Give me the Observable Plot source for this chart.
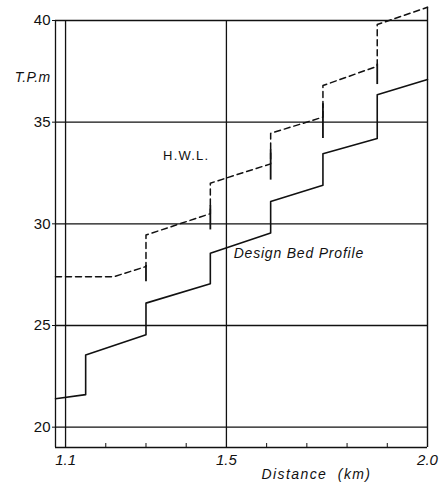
<!DOCTYPE html>
<html>
<head>
<meta charset="utf-8">
<script src="https://cdn.jsdelivr.net/npm/d3@7"></script>
<script src="https://cdn.jsdelivr.net/npm/@observablehq/plot@0.6"></script>
<style>
  html, body { margin: 0; padding: 0; background: #fff; }
  #chart svg { font-family: "Liberation Sans", Arial, sans-serif; }
  g[aria-label="x-axis tick label"] text { font-style: italic; }
</style>
</head>
<body>
<div id="chart"></div>
<script>
// Longitudinal section of the channel: distance (km) against level (T.P. m)

// Design bed profile (solid), stepping up at each drop structure
const bedDistance = [1.075, 1.15, 1.15, 1.30, 1.30, 1.46, 1.46, 1.61, 1.61, 1.74, 1.74, 1.875, 1.875, 2.0];
const bedLevel    = [21.4, 21.6, 23.55, 24.55, 26.1, 27.05, 28.55, 29.55, 31.1, 31.9, 33.45, 34.2, 36.35, 37.1];

// High water level (dashed)
const hwlDistance = [1.075, 1.22, 1.30, 1.30, 1.46, 1.46, 1.61, 1.61, 1.74, 1.74, 1.875, 1.875, 2.0];
const hwlLevel    = [27.4, 27.4, 27.9, 29.45, 30.5, 32.0, 32.95, 34.45, 35.25, 36.8, 37.75, 39.8, 40.65];

// Short solid marks where the H.W.L. jumps at each structure
const dropDistance = [1.30, 1.46, 1.61, 1.74, 1.875];
const dropTop      = [27.95, 30.9, 33.65, 35.9, 37.85];
const dropBottom   = [27.15, 29.7, 32.15, 34.2, 36.85];

// Axes
const levelTicks     = [20, 25, 30, 35, 40];
const distanceLabels = [1.1, 1.5, 2.0];
const distanceMinor  = [1.2, 1.3, 1.4, 1.6, 1.7, 1.8, 1.9];
const distanceGrid   = [1.1, 1.5];
const distanceRange  = [1.075, 2.0];
const levelRange     = [19, 40];

const bed  = bedDistance.map((d, i) => ({distance: d, level: bedLevel[i]}));
const hwl  = hwlDistance.map((d, i) => ({distance: d, level: hwlLevel[i]}));
const drops = dropDistance.map((d, i) => ({distance: d, top: dropTop[i], bottom: dropBottom[i]}));

const ink = "#111";

const chart = Plot.plot({
  width: 448,
  height: 485,
  marginLeft: 55,
  marginRight: 21,
  marginTop: 20,
  marginBottom: 38,
  style: {background: "#fff", color: ink, fontSize: "15px"},
  x: {domain: distanceRange},
  y: {domain: levelRange},
  marks: [
    // horizontal level lines and the bottom of the frame
    Plot.ruleY(levelTicks, {stroke: ink, strokeWidth: 1.4}),
    Plot.ruleY([levelRange[0]], {stroke: ink, strokeWidth: 1.6}),
    // left edge of the frame and the vertical grid lines
    Plot.ruleX([distanceRange[0], ...distanceGrid], {stroke: ink, strokeWidth: 1.3}),
    // right edge rises to meet the end of the H.W.L. line
    Plot.ruleX([distanceRange[1]], {y1: levelRange[0], y2: hwlLevel[hwlLevel.length - 1], stroke: ink, strokeWidth: 1.4}),

    // design bed profile
    Plot.line(bed, {x: "distance", y: "level", stroke: ink, strokeWidth: 1.6, curve: "linear"}),
    // high water level
    Plot.line(hwl, {x: "distance", y: "level", stroke: ink, strokeWidth: 1.5, strokeDasharray: "6,4", curve: "linear"}),
    Plot.ruleX(drops, {x: "distance", y1: "bottom", y2: "top", stroke: ink, strokeWidth: 1.8}),

    // axes
    Plot.axisY(levelTicks, {tickSize: 3, tickPadding: 2, fontSize: 15, label: null}),
    Plot.axisX(distanceLabels, {tickSize: 0, tickPadding: 7, fontSize: 15, tickFormat: d => d.toFixed(1), label: null}),
    Plot.axisX(distanceMinor, {tickSize: -4, tickFormat: () => "", label: null}),

    // titles
    Plot.text(["Distance  (km)"], {frameAnchor: "bottom", dx: 75, dy: 27, fontSize: 14, fontStyle: "italic", lineAnchor: "middle"}),
    Plot.text(["T.P.m"], {frameAnchor: "top-left", textAnchor: "end", dx: -5, dy: 57, fontSize: 14, fontStyle: "italic", lineAnchor: "middle"}),

    // line labels
    Plot.text(["H.W.L."], {x: 1.40, y: 33.35, fontSize: 13, lineAnchor: "middle"}),
    Plot.text(["Design Bed Profile"], {x: 1.518, y: 28.55, textAnchor: "start", fontSize: 14, fontStyle: "italic", lineAnchor: "middle"})
  ]
});

// open up the lettering of the titles and line labels
const spacing = {"Distance  (km)": 1.4, "T.P.m": 0.3, "H.W.L.": 1.2, "Design Bed Profile": 0.8};
d3.select(chart).selectAll("text")
  .filter(function () { return this.textContent in spacing; })
  .style("letter-spacing", function () { return spacing[this.textContent] + "px"; })
  .style("white-space", "pre");

document.getElementById("chart").appendChild(chart);
</script>
</body>
</html>
